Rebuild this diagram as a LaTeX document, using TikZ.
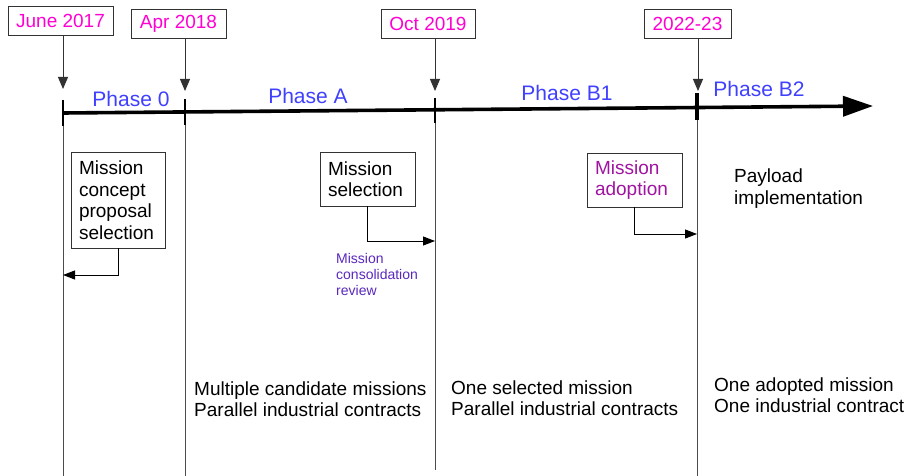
\documentclass[tikz,border=0pt]{standalone}
\usepackage{fontspec}
\setmainfont{Liberation Sans}
\usetikzlibrary{arrows.meta}
\definecolor{datecol}{RGB}{255,0,210}
\definecolor{phasecol}{RGB}{64,64,255}
\definecolor{reviewcol}{RGB}{90,40,190}
\definecolor{adoptcol}{RGB}{160,20,160}
\definecolor{boxline}{RGB}{50,50,50}
\tikzset{
  datebox/.style={draw=boxline, line width=0.9pt, text=datecol, font=\fontsize{19}{21}\selectfont, inner sep=0pt, minimum height=29pt},
  phaselbl/.style={text=phasecol, font=\fontsize{21}{24}\selectfont, inner sep=0pt},
  mbox/.style={draw=boxline, line width=0.9pt, font=\fontsize{19}{21.5}\selectfont, align=left, inner xsep=8pt, inner ysep=0pt},
  bodytxt/.style={font=\fontsize{19}{21.5}\selectfont, align=left, inner sep=0pt, anchor=west},
  smalltxt/.style={text=reviewcol, font=\fontsize{14}{16}\selectfont, align=left, inner sep=0pt, anchor=west},
  datearrow/.style={line width=0.9pt, draw=boxline, -{Triangle[length=12pt,width=10pt]}},
  sidearrow/.style={line width=0.9pt, draw=black, -{Triangle[length=12pt,width=9pt]}},
  vline/.style={line width=0.9pt, draw=black!70},
  tick/.style={line width=2.6pt, draw=black},
}
\begin{document}
\begin{tikzpicture}[x=1pt,y=-1pt]
\useasboundingbox (0,0) rectangle (908,476);
\fill[white] (0,0) rectangle (908,476);
% timeline
\coordinate (tl0) at (63,113);
\coordinate (tlend) at (873,106);
\draw[line width=3.6pt, -{Triangle[length=30pt,width=20pt]}] (tl0) -- (tlend);
% ticks
\coordinate (k0a) at (63,100); \coordinate (k0b) at (63,126);
\coordinate (k1a) at (185,99); \coordinate (k1b) at (185,125);
\coordinate (k2a) at (435,98); \coordinate (k2b) at (435,123);
\coordinate (k3a) at (697,93); \coordinate (k3b) at (697,120);
\draw[tick] (k0a) -- (k0b);
\draw[tick] (k1a) -- (k1b);
\draw[tick] (k2a) -- (k2b);
\draw[tick, line width=3.2pt] (k3a) -- (k3b);
% vertical lines
\coordinate (b0) at (63,476);
\coordinate (b1) at (185,476);
\coordinate (b2) at (435,470);
\coordinate (b3) at (697,476);
\draw[vline] (k0b) -- (b0);
\draw[vline] (k1b) -- (b1);
\draw[vline] (k2b) -- (b2);
\draw[vline] (k3b) -- (b3);
% date boxes
\node[datebox, minimum width=105pt] (d0) at (60.5,21) {June 2017};
\node[datebox, minimum width=95pt] (d1) at (178.5,23.5) {Apr 2018};
\node[datebox, minimum width=94pt] (d2) at (428,23.5) {Oct 2019};
\node[datebox, minimum width=87pt] (d3) at (687.5,23.5) {2022-23};
\coordinate (a0) at (63,89);
\coordinate (a1) at (185,91);
\coordinate (a2) at (435,91);
\coordinate (a3) at (698,91);
\draw[datearrow] (d0.south -| a0) -- (a0);
\draw[datearrow] (d1.south -| a1) -- (a1);
\draw[datearrow] (d2.south -| a2) -- (a2);
\draw[datearrow] (d3.south -| a3) -- (a3);
% phase labels
\node[phaselbl] (p0) at (131,99) {Phase 0};
\node[phaselbl] (pA) at (308,96) {Phase A};
\node[phaselbl] (pB1) at (567,93) {Phase B1};
\node[phaselbl] (pB2) at (759,89) {Phase B2};
% mission boxes
\node[mbox, text width=78pt, minimum height=96pt] (m0) at (118,200) {Mission\\concept\\proposal\\selection};
\node[mbox, text width=79pt, minimum height=54pt] (m1) at (367.5,179) {Mission\\selection};
\node[mbox, text width=79pt, minimum height=54pt, text=adoptcol] (m2) at (634.5,180) {Mission\\adoption};
\coordinate (e0) at (63,275);
\coordinate (e1) at (435,241);
\coordinate (e2) at (697,234);
\draw[sidearrow] (m0.south) |- (e0);
\draw[sidearrow] (m1.south) |- (e1);
\draw[sidearrow] (m2.south) |- (e2);
% texts
\node[smalltxt] (rev) at (336,274) {Mission\\consolidation\\review};
\node[bodytxt] (pay) at (734,188.5) {Payload\\implementation};
\node[bodytxt] (t1) at (194,399) {Multiple candidate missions\\Parallel industrial contracts};
\node[bodytxt] (t2) at (451,398) {One selected mission\\Parallel industrial contracts};
\node[bodytxt] (t3) at (714,395) {One adopted mission\\One industrial contract};
\end{tikzpicture}
\end{document}
